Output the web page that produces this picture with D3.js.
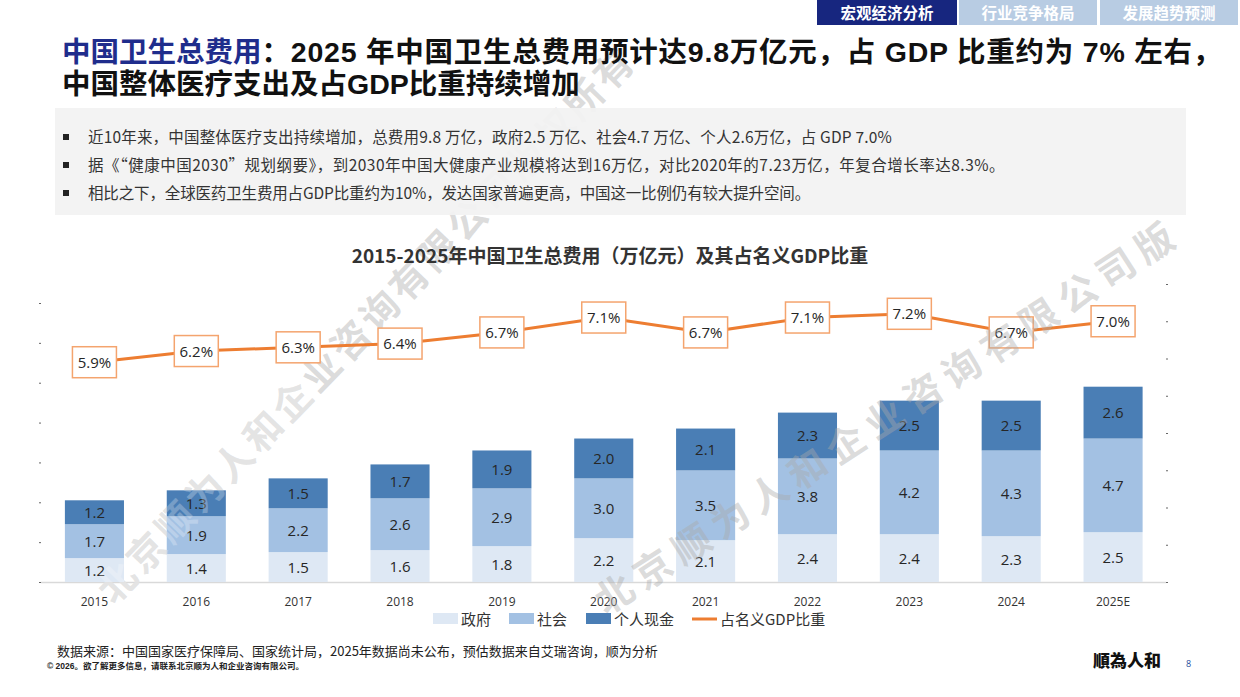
<!DOCTYPE html>
<html><head><meta charset="utf-8">
<script src="https://cdn.jsdelivr.net/npm/d3@7"></script>
<style>
html,body{margin:0;padding:0;background:#fff;}
svg{display:block;font-family:"Open Sans","Noto Sans CJK SC",sans-serif;}
</style></head>
<body>
<svg id="c" width="1240" height="697"></svg>
<script>
const years = ["2015","2016","2017","2018","2019","2020","2021","2022","2023","2024","2025E"];
const gov = [1.2,1.4,1.5,1.6,1.8,2.2,2.1,2.4,2.4,2.3,2.5];
const social = [1.7,1.9,2.2,2.6,2.9,3.0,3.5,3.8,4.2,4.3,4.7];
const personal = [1.2,1.3,1.5,1.7,1.9,2.0,2.1,2.3,2.5,2.5,2.6];
const gdpShare = [5.9,6.2,6.3,6.4,6.7,7.1,6.7,7.1,7.2,6.7,7.0];
const seriesNames = ["政府","社会","个人现金"];
const lineName = "占名义GDP比重";
const leftTicks = [0,2,4,6,8,10,12,14];
const rightTicks = [0,1,2,3,4,5,6,7,8];
const tabs = ["宏观经济分析","行业竞争格局","发展趋势预测"];
const bullets = [
  "近10年来，中国整体医疗支出持续增加，总费用9.8 万亿，政府2.5 万亿、社会4.7 万亿、个人2.6万亿，占 GDP 7.0%",
  "据《“健康中国2030”规划纲要》，到2030年中国大健康产业规模将达到16万亿，对比2020年的7.23万亿，年复合增长率达8.3%。",
  "相比之下，全球医药卫生费用占GDP比重约为10%，发达国家普遍更高，中国这一比例仍有较大提升空间。"
];

const svg = d3.select("#c");
const CJK = '"Noto Sans CJK SC","Open Sans",sans-serif';
const TITLEF = '"Liberation Sans","Noto Sans CJK SC",sans-serif';

function fitSpacing(sel, target){
  const w = sel.node().getComputedTextLength();
  const n = sel.text().length;
  sel.attr("letter-spacing", Math.max(-1, (target - w)/n));
}

// watermark line 1 (under content box)
const wmFill = "rgba(170,170,170,0.42)";
svg.append("text").attr("transform","translate(114,606) rotate(-46)").attr("font-family",CJK).attr("font-weight","bold")
  .attr("font-size",38).attr("letter-spacing",4).attr("fill",wmFill).text("北京顺为人和企业咨询有限公司版权所有");

// tabs
const tabX = [817, 959, 1100], tabW = [140, 138, 138];
const tabFill = ["#17267F", "#B8CCE3", "#B8CCE3"];
tabs.forEach((t,i)=>{
  svg.append("rect").attr("x",tabX[i]).attr("y",0).attr("width",tabW[i]).attr("height",25).attr("fill",tabFill[i]);
  svg.append("text").attr("x",tabX[i]+tabW[i]/2).attr("y",18.5).attr("text-anchor","middle")
    .attr("font-family",CJK).attr("font-weight","bold").attr("font-size",15.5).attr("fill","#fff").text(t);
});

// title
const tA = svg.append("text").attr("x",62).attr("y",62).attr("font-family",TITLEF).attr("font-weight","bold").attr("font-size",28.5)
  .attr("fill","#1F2D8C").text("中国卫生总费用");
const wA = tA.node().getComputedTextLength();
const tB = svg.append("text").attr("x",62+wA).attr("y",62).attr("font-family",TITLEF).attr("font-weight","bold").attr("font-size",28.5)
  .attr("fill","#111").text("：2025 年中国卫生总费用预计达9.8万亿元，占 GDP 比重约为 7% 左右，");
fitSpacing(tB, 1222 - 62 - wA);
svg.append("text").attr("x",62).attr("y",94).attr("font-family",TITLEF).attr("font-weight","bold").attr("font-size",28.5)
  .attr("fill","#111").text("中国整体医疗支出及占GDP比重持续增加");

// bullet box
svg.append("rect").attr("x",55).attr("y",108).attr("width",1131).attr("height",107).attr("fill","#F2F2F2").attr("fill-opacity",0.93);
const bulletEnds = [892, 1005, 810];
bullets.forEach((b,i)=>{
  const y = 137 + i*28;
  svg.append("rect").attr("x",63).attr("y",y-3).attr("width",6).attr("height",6).attr("fill","#222");
  const t = svg.append("text").attr("x",88).attr("y",y+5.5).attr("font-family",CJK).attr("font-size",15.5).attr("fill","#333").text(b);
  fitSpacing(t, bulletEnds[i]-88);
});

// chart title
svg.append("text").attr("x",610).attr("y",263).attr("text-anchor","middle").attr("font-family",CJK)
  .attr("font-weight","bold").attr("font-size",19).attr("fill","#333").text("2015-2025年中国卫生总费用（万亿元）及其占名义GDP比重");

// scales
const x = d3.scaleBand().domain(years).range([43.5,1164]).paddingInner(0.42).paddingOuter(0.21);
const yL = d3.scaleLinear().domain([0,14]).range([582,303]);
const yR = d3.scaleLinear().domain([0,8]).range([582,284]);

// axes (tick marks only)
const gL = svg.append("g").attr("transform","translate(41,0)").call(d3.axisLeft(yL).tickValues(leftTicks).tickSize(2).tickFormat(""));
const gR = svg.append("g").attr("transform","translate(1166,0)").call(d3.axisRight(yR).tickValues(rightTicks).tickSize(2).tickFormat(""));
[gL,gR].forEach(g=>{g.select(".domain").remove(); g.selectAll("line").attr("stroke","#666");});

// baseline
svg.append("line").attr("x1",41).attr("x2",1166).attr("y1",yL(0)+0.5).attr("y2",yL(0)+0.5).attr("stroke","#D9D9D9").attr("stroke-width",1.5);

// stacked bars
const colors = ["#DEE8F4","#A3C1E3","#4A7EB5"];
const rows = years.map((yr,i)=>({year:yr, 政府:gov[i], 社会:social[i], 个人现金:personal[i]}));
const stack = d3.stack().keys(seriesNames)(rows);
stack.forEach((layer,k)=>{
  const g = svg.append("g");
  layer.forEach(d=>{
    g.append("rect").attr("x",x(d.data.year)).attr("width",x.bandwidth())
      .attr("y",yL(d[1])).attr("height",yL(d[0])-yL(d[1])).attr("fill",colors[k]);
    g.append("text").attr("x",x(d.data.year)+x.bandwidth()/2).attr("y",(yL(d[0])+yL(d[1]))/2+5.5)
      .attr("text-anchor","middle").attr("font-size",15).attr("fill","#262626").text(d3.format(".1f")(d[1]-d[0]));
  });
});

// x labels
svg.append("g").selectAll("text").data(years).join("text")
  .attr("x",d=>x(d)+x.bandwidth()/2).attr("y",606).attr("text-anchor","middle")
  .attr("font-size",12).attr("fill","#333").text(d=>d);

// line
const pts = years.map((yr,i)=>[x(yr)+x.bandwidth()/2, yR(gdpShare[i])]);
svg.append("path").attr("d",d3.line()(pts)).attr("fill","none").attr("stroke","#ED7D31").attr("stroke-width",3);
pts.forEach((p,i)=>{
  svg.append("rect").attr("x",p[0]-22).attr("y",p[1]-15.5).attr("width",44).attr("height",31)
    .attr("fill","#fff").attr("stroke","#F4A46E").attr("stroke-width",1.5);
  svg.append("text").attr("x",p[0]).attr("y",p[1]+5.5).attr("text-anchor","middle")
    .attr("font-size",15).attr("fill","#262626").text(d3.format(".1f")(gdpShare[i])+"%");
});

// second watermark line (over chart)
svg.append("text").attr("transform","translate(606,616) rotate(-33)").attr("font-family",CJK).attr("font-weight","bold")
  .attr("font-size",38).attr("letter-spacing",8).attr("fill",wmFill).text("北京顺为人和企业咨询有限公司版");
// first line lower part tinted over bars
svg.append("text").attr("transform","translate(114,606) rotate(-46)").attr("font-family",CJK).attr("font-weight","bold")
  .attr("font-size",38).attr("letter-spacing",4).attr("fill","rgba(255,255,255,0.25)").text("北京顺为人和企");

// legend
const lg = svg.append("g").attr("font-family",CJK).attr("font-size",15).attr("fill","#333");
const legX = [433, 509, 586];
seriesNames.forEach((n,i)=>{
  lg.append("rect").attr("x",legX[i]).attr("y",613).attr("width",25).attr("height",11).attr("fill",colors[i]);
  lg.append("text").attr("x",legX[i]+28).attr("y",625).text(n);
});
lg.append("line").attr("x1",692).attr("x2",717).attr("y1",619).attr("y2",619).attr("stroke","#ED7D31").attr("stroke-width",3);
lg.append("text").attr("x",720).attr("y",625).text(lineName);

// footer
svg.append("text").attr("x",57).attr("y",656).attr("font-family",CJK).attr("font-size",13).attr("fill","#222")
  .text("数据来源：中国国家医疗保障局、国家统计局，2025年数据尚未公布，预估数据来自艾瑞咨询，顺为分析");
svg.append("text").attr("x",47).attr("y",669).attr("font-family",'"Liberation Sans","Noto Sans CJK SC",sans-serif').attr("font-size",8.5).attr("font-weight","bold").attr("fill","#222")
  .text("© 2026。欲了解更多信息，请联系北京顺为人和企业咨询有限公司。");
svg.append("text").attr("x",1093).attr("y",667).attr("font-family",'"Noto Sans CJK TC",sans-serif').attr("font-weight","900")
  .attr("font-size",17).attr("fill","#111").text("順為人和");
svg.append("text").attr("x",1186).attr("y",667).attr("font-size",9).attr("fill","#1F4E9C").text("8");
</script>
</body></html>
